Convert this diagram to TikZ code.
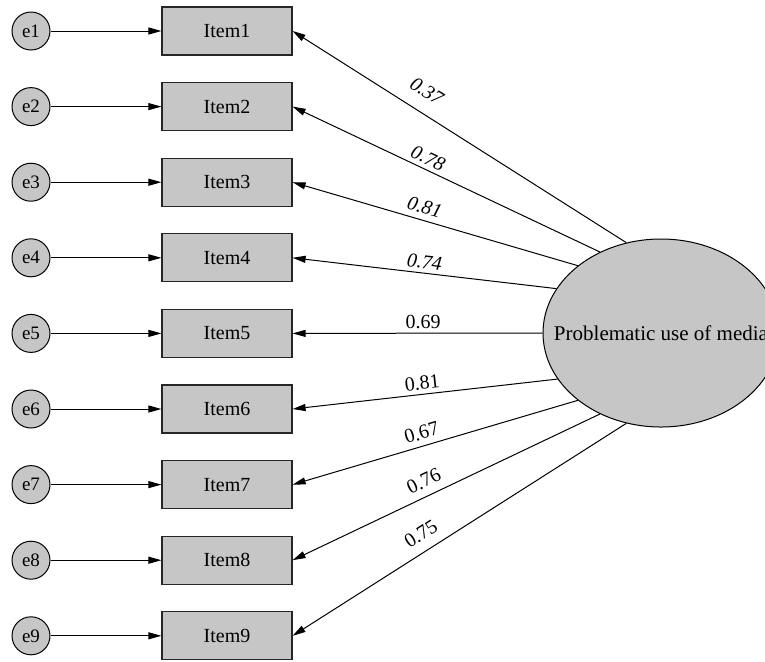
\documentclass[tikz,border=0pt]{standalone}
\usepackage{fontspec}
\setmainfont{Liberation Serif}
\usetikzlibrary{arrows.meta,shapes.geometric}
\definecolor{semgray}{RGB}{198,198,198}

\begin{document}
\begin{tikzpicture}[x=0.5pt,y=-0.5pt,
  err/.style={circle, draw=black, line width=0.5pt, fill=semgray, minimum size=19pt, inner sep=0pt, font=\fontsize{9.5}{11}\selectfont},
  itembox/.style={rectangle, draw=black!85, line width=0.6pt, fill=semgray, minimum width=65pt, minimum height=24pt, font=\fontsize{10}{12}\selectfont},
  latent/.style={ellipse, draw=black, line width=0.5pt, fill=semgray, minimum width=118pt, minimum height=94pt, inner sep=0pt},
  arr/.style={-{Triangle[length=6.5pt,width=3.5pt]}, line width=0.5pt},
  load/.style={font=\fontsize{10}{12}\selectfont, sloped, above, inner sep=2pt}]
\useasboundingbox (0,0) rectangle (765,661);
\clip (0,0) rectangle (765,661);

% indicators and their error terms
\foreach \i in {1,...,9} {
  \node[err] (e\i) at (31,{31+75.6*(\i-1)}) {e\i};
  \node[itembox] (item\i) at (227,{31+75.6*(\i-1)}) {Item\i};
  \draw[arr] (e\i) -- (item\i);
}

% latent factor
\node[latent] (pum) at (661,333) {};
\node[font=\fontsize{10.5}{12}\selectfont] (pumtxt) at (pum.center) {Problematic use of media};

% loadings
\draw[arr] (pum.111) -- node[load, pos=0.632, above=5pt, font=\itshape] {0.37} (item1.east);
\draw[arr] (pum.127) -- node[load, pos=0.575, font=\itshape] {0.78} (item2.east);
\draw[arr] (pum.141) -- node[load, pos=0.55, above=1pt, font=\itshape] {0.81} (item3.east);
\draw[arr] (pum.157) -- node[load, pos=0.505, font=\itshape] {0.74} (item4.east);
\draw[arr] (pum.180) -- node[load, pos=0.478] {0.69} (item5.east);
\draw[arr] (pum.204) -- node[load, pos=0.506] {0.81} (item6.east);
\draw[arr] (pum.219) -- node[load, pos=0.535, above=1pt] {0.67} (item7.east);
\draw[arr] (pum.233) -- node[load, pos=0.552, above=2pt] {0.76} (item8.east);
\draw[arr] (pum.249) -- node[load, pos=0.588, above=3pt] {0.75} (item9.east);
\end{tikzpicture}
\end{document}
